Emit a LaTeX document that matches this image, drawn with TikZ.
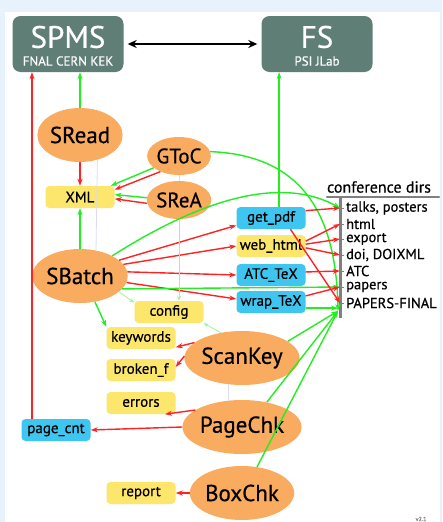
\documentclass[tikz,border=0pt]{standalone}
\usepackage{fontspec}
\setmainfont{PT Sans}[FakeBold=0.5]
\usetikzlibrary{shapes.geometric,arrows.meta}

\definecolor{sitegray}{HTML}{5F7E76}
\definecolor{progorange}{HTML}{F9AB60}
\definecolor{fileyellow}{HTML}{FCE66C}
\definecolor{toolblue}{HTML}{3FC6F0}
\definecolor{lgreen}{HTML}{22EE22}
\definecolor{lred}{HTML}{FF2222}
\definecolor{bgblue}{HTML}{E8F2FC}
\definecolor{faint}{HTML}{DCDCF6}

\begin{document}
\begin{tikzpicture}[x=1pt,y=-1pt,
  site/.style={shape=rectangle, rounded corners=8pt, fill=sitegray, minimum width=111pt, minimum height=56pt, inner sep=0pt},
  sitename/.style={text=white, inner sep=0pt, font=\fontsize{31}{31}\selectfont},
  sitesub/.style={text=white, inner sep=0pt, font=\fontsize{13}{13}\selectfont},
  prog/.style={shape=ellipse, fill=progorange, minimum width=84pt, minimum height=54pt, inner sep=0pt, font=\fontsize{23}{24}\selectfont},
  smallprog/.style={prog, minimum width=58pt, minimum height=38pt, font=\fontsize{21}{22}\selectfont},
  file/.style={shape=rectangle, rounded corners=4pt, fill=fileyellow, minimum width=69pt, minimum height=22pt, inner sep=0pt, font=\fontsize{15}{16}\selectfont},
  tool/.style={file, fill=toolblue},
  dir/.style={anchor=west, inner xsep=6pt, inner ysep=0pt, font=\fontsize{14.5}{15}\selectfont},
  red/.style={draw=lred, line width=1.4pt, -{Stealth[length=7pt,width=5pt]}},
  green/.style={draw=lgreen, line width=1.4pt, -{Stealth[length=7pt,width=5pt]}},
  pale/.style={draw=lgreen!45, line width=0.8pt, -{Stealth[length=5pt,width=4pt]}},
  dim/.style={draw=faint, line width=0.8pt}]

  \useasboundingbox (0,0) rectangle (442,522);
  \fill[bgblue] (0,0) rectangle (442,522);
  \fill[white] (5,12) rectangle (440,522);

  \node (SPMS) [site] at (68,44) {};
  \node (SPMSname) [sitename] at (68,37) {SPMS};
  \node (SPMSsub) [sitesub] at (68,61) {FNAL CERN KEK};
  \node (FS) [site] at (317,44) {};
  \node (FSname) [sitename] at (317,37) {FS};
  \node (FSsub) [sitesub] at (317,61) {PSI JLab};

  \node (SRead) [prog] at (80,135) {SRead};
  \node (GToC) [smallprog] at (179,156) {GToC};
  \node (SReA) [smallprog] at (179,200) {SReA};
  \node (XML) [file] at (80,197) {XML};
  \node (SBatch) [prog] at (80,276) {SBatch};
  \node (config) [file] at (169,312) {config};
  \node (keywords) [file] at (141,338) {keywords};
  \node (broken) [file] at (141,370) {broken\_f};
  \node (errors) [file] at (141,403) {errors};
  \node (report) [file] at (141,493) {report};
  \node (pagecnt) [tool] at (56,430) {page\_cnt};
  \node (ScanKey) [prog] at (242,358) {ScanKey};
  \node (PageChk) [prog] at (242,427) {PageChk};
  \node (BoxChk) [prog] at (242,493) {BoxChk};

  \node (getpdf) [tool] at (271,218) {get\_pdf};
  \node (webhtml) [file] at (271,246) {web\_html};
  \node (ATCTeX) [tool] at (271,275) {ATC\_TeX};
  \node (wrapTeX) [tool] at (271,302) {wrap\_TeX};

  % conference dirs
  \node (confdirs) [font=\fontsize{16}{17}\selectfont] at (379,187) {conference dirs};
  \draw[gray, line width=2.5pt, line cap=round] (327,197) -- (439,197);
  \draw[gray, line width=3pt] (340,197) -- (340,318);
  \coordinate (barend) at (338,311);
  \node (talks) [dir] at (340,208) {talks, posters};
  \node (html) [dir] at (340,224) {html};
  \node (export) [dir] at (340,239) {export};
  \node (doi) [dir] at (340,255) {doi, DOIXML};
  \node (ATC) [dir] at (340,271) {ATC};
  \node (papers) [dir] at (340,287) {papers};
  \node (final) [dir] at (340,303) {PAPERS-FINAL};
  \foreach \d in {talks,html,export,doi,ATC,papers,final}
    \draw[gray, line width=0.8pt] (\d.west) -- ++(4,0);

  \node (ver) [font=\fontsize{6}{6}\selectfont, text=gray] at (421,519) {v2.1};

  \draw[{Stealth[length=9pt,width=8pt]}-{Stealth[length=9pt,width=8pt]}, line width=1.6pt] ([xshift=4pt]SPMS.east) -- ([xshift=-4pt]FS.west);
  \draw[red] (pagecnt.155) -- (pagecnt.155 |- SPMS.south);
  \draw[green] (SRead.north) -- (SRead.north |- SPMS.south);
  \draw[green] (getpdf.54) -- (getpdf.54 |- FS.south);

  \draw[dim] (SRead.305) -- (SBatch.58);
  \draw[dim] (GToC.south) -- (SReA.north);
  \draw[dim] (ScanKey.243) -- (PageChk.117);

  \draw[red] (SRead.south) -- (XML.north);
  \draw[green] (GToC.205) -- (XML.20);
  \draw[red] (GToC.220) -- (XML.12);
  \draw[green] (SReA.176) -- (XML.4);
  \draw[red] (SReA.186) -- (XML.-3);
  \draw[green] (SBatch.north) -- (XML.south);

  \draw[red] (SBatch.22) -- (getpdf.192);
  \draw[red] (SBatch.15) -- (webhtml.west);
  \draw[red] (SBatch.5) -- (ATCTeX.west);
  \draw[red] (SBatch.-8) -- (wrapTeX.175);
  \draw[green] (SBatch.-17) -- (papers.west);
  \draw[green] (SBatch.32) .. controls (200,200) and (280,175) .. (talks.west);
  \draw[green] (SBatch.-60) -- (keywords.north west);
  \draw[pale] (SBatch.-22) -- (config.165);
  \draw[pale] (ScanKey.130) -- (config.south east);
  \draw[pale] (SReA.south) -- (SReA.south |- config.north);
  \draw[green] (GToC.8) .. controls (295,155) and (336,205) .. (barend);

  \draw[red] (getpdf.12) -- (talks.west);
  \draw[red] (getpdf.-30) -- (final.west);
  \draw[red] (webhtml.8) -- (html.west);
  \draw[red] (webhtml.3) -- (export.west);
  \draw[red] (webhtml.-3) -- (doi.west);
  \draw[red] (ATCTeX.5) -- (ATC.west);
  \draw[red] (wrapTeX.10) -- (papers.west);
  \draw[green] (wrapTeX.-10) -- (wrapTeX.-10 -| barend);

  \draw[green] (ScanKey.20) -- (barend);
  \draw[green] (PageChk.45) -- (barend);
  \draw[green] (BoxChk.60) -- (barend);

  \draw[red] (ScanKey.162) -- (keywords.-15);
  \draw[red] (ScanKey.178) -- (broken.5);
  \draw[red] (PageChk.160) -- (errors.-25);
  \draw[red] (PageChk.west) -- (pagecnt.east);
  \draw[red] (BoxChk.west) -- (report.east);
\end{tikzpicture}
\end{document}
